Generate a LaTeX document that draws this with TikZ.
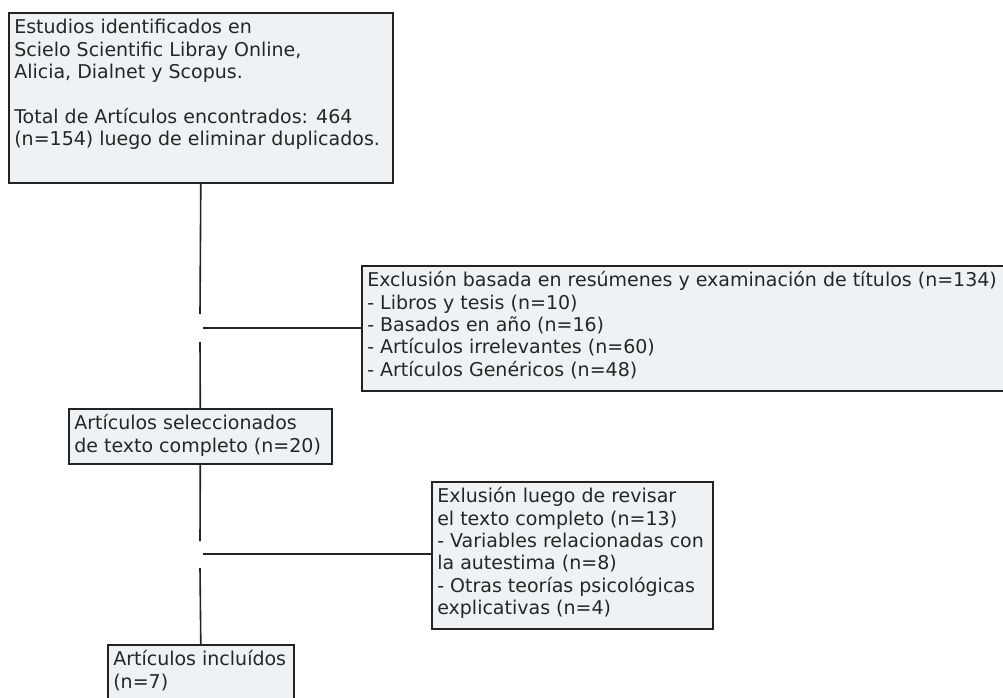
\documentclass[tikz,border=0pt]{standalone}
\usepackage{fontspec}
\setmainfont{DejaVu Sans}
\definecolor{boxfill}{RGB}{238,242,244}
\definecolor{boxline}{RGB}{35,35,35}
\newcommand{\boxtxt}[3]{\parbox[t][#2][t]{#1}{\raggedright\strut #3}}
\begin{document}
\begin{tikzpicture}[x=1pt,y=-1pt,
  font=\fontsize{19}{22.3}\selectfont,text=black!85,
  box/.style={draw=boxline,fill=boxfill,line width=1.6pt,anchor=north west,inner sep=5.5pt}]
\useasboundingbox(0,0)rectangle(1003,698);
\clip(0,0)rectangle(1003,698);
\node[box](ident)at(8,12){\boxtxt{373pt}{159pt}{Estudios identificados en\\Scielo Scientific Libray Online,\\Alicia, Dialnet y Scopus.\\[22.3pt]Total de Artículos encontrados: 464\\(n=154) luego de eliminar duplicados.}};
\node[box](excl1)at(361,265){\boxtxt{650pt}{114pt}{Exclusión basada en resúmenes y examinación de títulos (n=134)\\- Libros y tesis (n=10)\\- Basados en año (n=16)\\- Artículos irrelevantes (n=60)\\- Artículos Genéricos (n=48)}};
\node[box](sel)at(68,408){\boxtxt{252pt}{44pt}{Artículos seleccionados\\de texto completo (n=20)}};
\node[box](excl2)at(431,481){\boxtxt{270pt}{136pt}{Exlusión luego de revisar\\el texto completo (n=13)\\- Variables relacionadas con\\la autestima (n=8)\\- Otras teorías psicológicas\\explicativas (n=4)}};
\node[box](incl)at(107,644){\boxtxt{175pt}{60pt}{Artículos incluídos\\(n=7)}};
\coordinate(G1)at(200,314);
\coordinate(G2)at(200,342);
\coordinate(G3)at(200,541);
\coordinate(G4)at(200,568);
\coordinate(H1)at(203,328);
\coordinate(H2)at(203,554);
\begin{scope}[line width=1.6pt,draw=boxline]
\draw(ident.south)--(G1);
\draw(G2)--(sel.north);
\draw(sel.south)--(G3);
\draw(G4)--(incl.north);
\draw(H1)--(H1-|excl1.west);
\draw(H2)--(H2-|excl2.west);
\end{scope}
\end{tikzpicture}
\end{document}
